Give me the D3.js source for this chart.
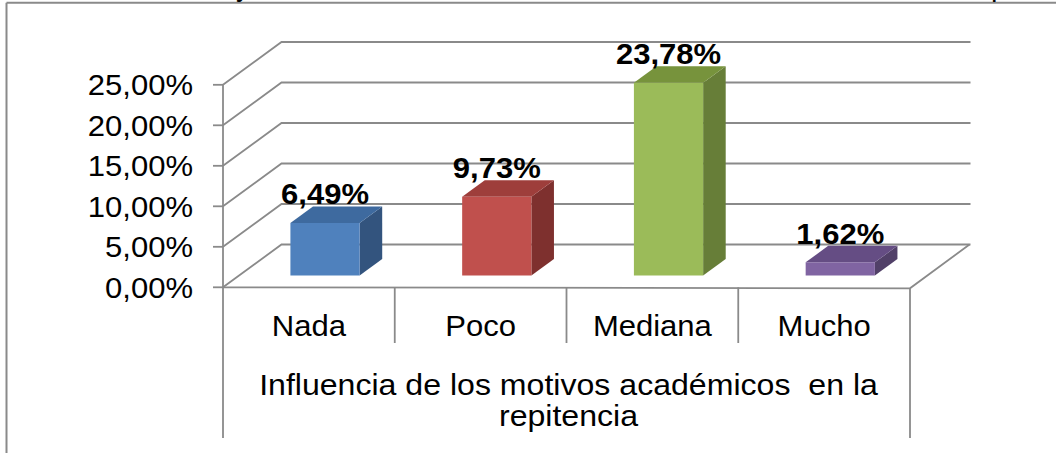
<!DOCTYPE html>
<html><head><meta charset="utf-8">
<script src="https://cdn.jsdelivr.net/npm/d3@7"></script>
<style>
html,body{margin:0;padding:0;background:#fff;}
svg{display:block;}
text{font-family:"Liberation Sans",Arial,sans-serif;fill:#000;}
</style></head>
<body>
<svg id="chart" width="1056" height="453"></svg>
<script>
const categories = ["Nada", "Poco", "Mediana", "Mucho"];
const values = [6.49, 9.73, 23.78, 1.62];
const valueLabels = ["6,49%", "9,73%", "23,78%", "1,62%"];
const yTicks = [0, 5, 10, 15, 20, 25];
const yTickLabels = ["0,00%", "5,00%", "10,00%", "15,00%", "20,00%", "25,00%"];
const axisTitle = ["Influencia de los motivos académicos  en la", "repitencia"];
const frontColors = ["#4F81BD", "#C0504D", "#9BBB59", "#8064A2"];
const topColors = ["#3E6A9F", "#9E3E3B", "#77933C", "#654D84"];
const sideColors = ["#33547E", "#7E302E", "#677E38", "#514068"];

const svg = d3.select("#chart");
const FS = 29, SX = 1.07;
const gridColor = "#8A8A8A";

const x = d3.scaleBand().domain(categories).range([223, 910]).paddingInner(0).paddingOuter(0);
const y = d3.scaleLinear().domain([0, 25]).range([287.3, 84.8]);
const DX = 58.5, DY = -42.8;
const proj = (px, v, z) => [px + z * DX, y(v) + z * DY];

function stretchedText(g, tx, ty, str, anchor, weight, fs) {
  return g.append("text")
    .attr("transform", `translate(${tx},${ty}) scale(${SX},1)`)
    .attr("text-anchor", anchor)
    .attr("font-size", fs || FS)
    .attr("font-weight", weight || "normal")
    .style("white-space", "pre")
    .attr("xml:space", "preserve")
    .text(str);
}

// outer frame
svg.append("line").attr("x1", 6.5).attr("x2", 1056).attr("y1", 2.7).attr("y2", 2.7)
  .attr("stroke", gridColor).attr("stroke-width", 2);
svg.append("line").attr("x1", 6.5).attr("x2", 6.5).attr("y1", 2.7).attr("y2", 453)
  .attr("stroke", gridColor).attr("stroke-width", 2);
// cut-off text fragments above frame (as in the reference)
svg.append("text").attr("x", 236).attr("y", -4).attr("font-size", FS).text("y");
svg.append("text").attr("x", 991).attr("y", -4).attr("font-size", FS).text("p");

const grid = svg.append("g").attr("fill", "none").attr("stroke", gridColor).attr("stroke-width", 1.8);
const x0 = x.range()[0], x1 = x.range()[1];
yTicks.forEach(t => {
  const a = proj(x0, t, 0), b = proj(x0, t, 1), c = proj(x1, t, 1);
  grid.append("path").attr("d", `M${a[0]},${a[1]}L${b[0]},${b[1]}L${c[0] + 2},${c[1]}`);
  grid.append("line").attr("x1", x0 - 10).attr("x2", x0).attr("y1", y(t)).attr("y2", y(t));
});
// vertical axis / left category edge
grid.append("line").attr("x1", x0).attr("x2", x0).attr("y1", y(25)).attr("y2", 438);
// floor front edge and right edge
{
  const a = proj(x0, 0, 0), b = proj(x1, 0, 0), c = proj(x1, 0, 1);
  grid.append("path").attr("d", `M${a[0]},${a[1]}L${b[0]},${b[1] + 1}L${c[0] + 1},${c[1]}`);
  grid.append("line").attr("x1", x1).attr("x2", x1).attr("y1", y(0) + 1).attr("y2", 438);
}
// category dividers
categories.slice(1).forEach(cat => {
  grid.append("line").attr("x1", x(cat)).attr("x2", x(cat)).attr("y1", y(0)).attr("y2", 343);
});

// y tick labels
const yl = svg.append("g");
yTicks.forEach((t, i) => stretchedText(yl, 193, y(t) + 10.5, yTickLabels[i], "end"));

// bars
const zF = 0.276, zB = 0.662, wRatio = 0.403;
const bars = svg.append("g");
categories.forEach((cat, i) => {
  const bw = x.bandwidth() * wRatio;
  const l = x(cat) + (x.bandwidth() - bw) / 2, r = l + bw;
  const v = values[i];
  const fbl = proj(l, 0, zF), fbr = proj(r, 0, zF), ftl = proj(l, v, zF), ftr = proj(r, v, zF);
  const btl = proj(l, v, zB), btr = proj(r, v, zB), bbr = proj(r, 0, zB);
  const poly = pts => "M" + pts.map(p => p.join(",")).join("L") + "Z";
  bars.append("path").attr("d", poly([ftr, btr, bbr, fbr])).attr("fill", sideColors[i]);
  bars.append("path").attr("d", poly([ftl, btl, btr, ftr])).attr("fill", topColors[i]);
  bars.append("path").attr("d", poly([fbl, ftl, ftr, fbr])).attr("fill", frontColors[i]);
  const cx = (l + r) / 2 + zF * DX;
  stretchedText(bars, cx, btl[1] - 2, valueLabels[i], "middle", "bold");
});

// category labels
const cl = svg.append("g");
categories.forEach(cat => stretchedText(cl, x(cat) + x.bandwidth() / 2, 336, cat, "middle"));
const mid = (x0 + x1) / 2 + 2;
stretchedText(cl, mid, 395, axisTitle[0], "middle", "normal", 30);
stretchedText(cl, mid, 426, axisTitle[1], "middle", "normal", 30);
</script>
</body></html>
